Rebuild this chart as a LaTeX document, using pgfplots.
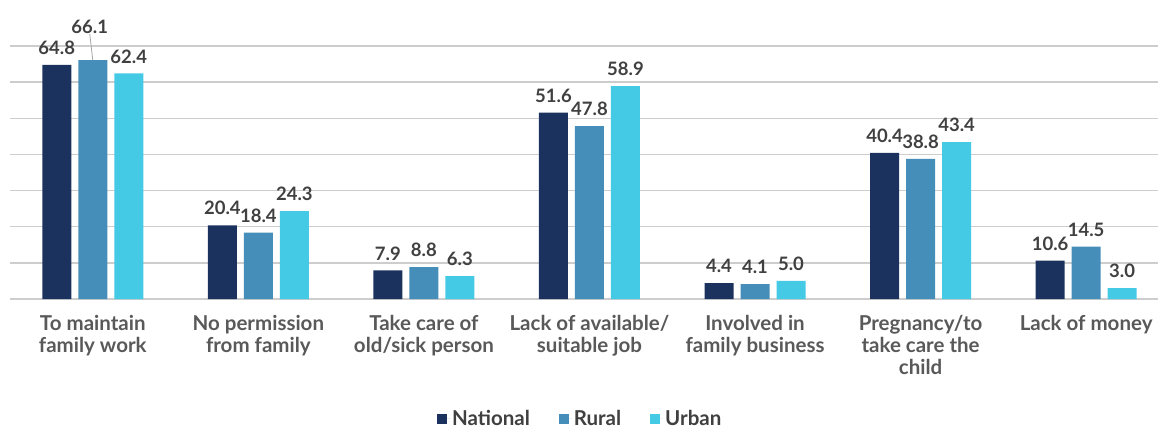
\documentclass[border=0pt]{standalone}
\usepackage{pgfplots}
\pgfplotsset{compat=1.18}
\usepackage{fontspec}
\setmainfont{Lato}
\definecolor{National}{RGB}{27,50,94}
\definecolor{Rural}{RGB}{69,142,185}
\definecolor{Urban}{RGB}{69,202,230}
\definecolor{gridgray}{RGB}{205,205,205}
\definecolor{ticktext}{RGB}{89,89,89}
\definecolor{valtext}{RGB}{64,64,64}

\begin{document}
\begin{tikzpicture}[x=1pt,y=1pt]
\begin{axis}[
  at={(10pt,130pt)}, anchor=south west,
  scale only axis, width=1159pt, height=253pt,
  xmin=-0.5, xmax=6.5, ymin=0, ymax=70,
  ybar=7pt, bar width=29pt,
  axis line style={draw=none}, tick style={draw=none},
  ytick={0,10,...,70}, yticklabels={},
  ymajorgrids, grid style={line width=1.3pt, color=gridgray},
  xtick={0,...,6},
  xticklabels={{To maintain\\family work},{No permission\\from family},{Take care of\\old/sick person},{Lack of available/\\suitable job},{Involved in\\family business},{Pregnancy/to\\take care the\\child},{Lack of money}},
  xticklabel style={align=center, font=\bfseries\fontsize{20.5}{22}\selectfont, text=ticktext, anchor=north, inner sep=0pt, yshift=-12pt},
  /pgf/number format/assume math mode=true,
  nodes near coords={\pgfmathprintnumber[fixed,fixed zerofill,precision=1]{\pgfplotspointmeta}},
  every node near coord/.append style={font=\bfseries\fontsize{18.5}{21}\selectfont, text=valtext, anchor=south, inner sep=0pt, yshift=10pt},
  clip=false,
  legend style={at={(0.492,-0.474)}, anchor=center, draw=none, legend columns=3,
    font=\bfseries\fontsize{20.5}{22}\selectfont, text=valtext,
    inner sep=0pt, column sep=0pt},
  legend image code/.code={\fill[#1] (0pt,-5pt) rectangle (10pt,5pt); \path (0pt,0pt) -- (13pt,0pt);},
]
\addplot[fill=National, draw=none] coordinates {(0,64.8)(1,20.4)(2,7.9)(3,51.6)(4,4.4)(5,40.4)(6,10.6)};
\addlegendentry{National\rule{27pt}{0pt}}
\addplot[fill=Rural, draw=none, coordinate style/.condition={y>65}{yshift=16pt, xshift=-3pt}] coordinates {(0,66.1)(1,18.4)(2,8.8)(3,47.8)(4,4.1)(5,38.8)(6,14.5)};
\addlegendentry{Rural\rule{27pt}{0pt}}
\addplot[fill=Urban, draw=none] coordinates {(0,62.4)(1,24.3)(2,6.3)(3,58.9)(4,5.0)(5,43.4)(6,3.0)};
\addlegendentry{Urban}
\draw[gray!70, line width=0.8pt] (axis cs:0,66.1) -- ++(-3pt,26pt);
\end{axis}
\pgfresetboundingbox
\useasboundingbox (0,0) rectangle (1158,429);
\end{tikzpicture}
\end{document}
